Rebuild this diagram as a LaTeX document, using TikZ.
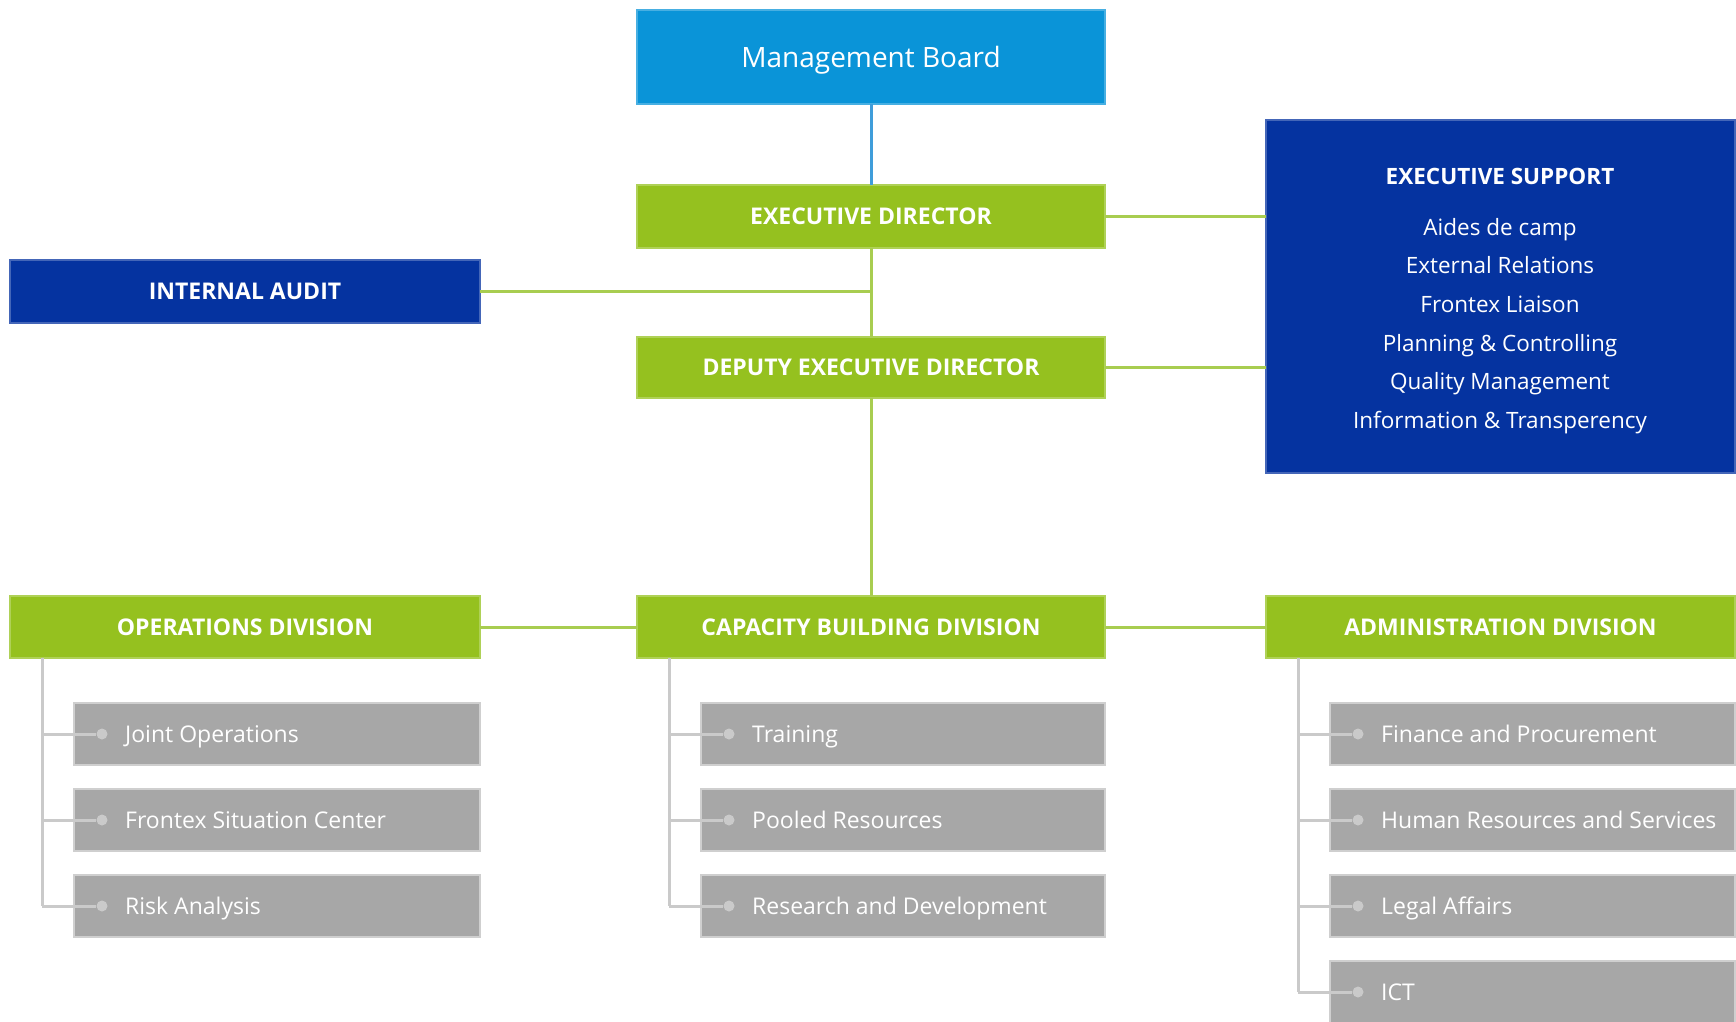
\documentclass[tikz,border=0pt]{standalone}
\usepackage{fontspec}
\setmainfont{Open Sans}
\definecolor{mbblue}{HTML}{0A94D8}
\definecolor{dgreen}{HTML}{95C11F}
\definecolor{dblue}{HTML}{0533A0}
\definecolor{gbox}{HTML}{A7A7A7}
\definecolor{lgreen}{HTML}{A8CD50}
\definecolor{lblue}{HTML}{3F9DDA}
\definecolor{treegrey}{HTML}{CACACA}
\tikzset{
  boxbase/.style={rectangle, inner sep=0pt, outer sep=0pt, anchor=north west, text=white, line width=1.5pt, text depth=0pt},
  mbbox/.style={boxbase, fill=mbblue, draw=mbblue!75!white, font=\fontsize{28}{32}\selectfont, text height=20pt},
  greenbox/.style={boxbase, fill=dgreen, draw=dgreen!75!white, minimum height=62pt, font=\bfseries\fontsize{23}{26}\selectfont, text height=16.4pt},
  bluebox/.style={boxbase, fill=dblue, draw=dblue!75!white, font=\bfseries\fontsize{23}{26}\selectfont, text height=16.4pt},
  greybox/.style={boxbase, fill=gbox, draw=gbox!55!white, minimum height=62pt},
  gtext/.style={anchor=base west, inner sep=0pt, text=white, font=\fontsize{23}{26}\selectfont},
  dotnode/.style={circle, fill=treegrey, inner sep=0pt, minimum size=11pt},
  gline/.style={draw=lgreen, line width=3pt},
  bline/.style={draw=lblue, line width=3pt},
  tree/.style={draw=treegrey, line width=3pt},
}
\begin{document}
\begin{tikzpicture}[x=1pt,y=-1pt]
\useasboundingbox (0,0) rectangle (1736,1021);
\clip (0,0) rectangle (1736,1021);
\fill[white] (0,0) rectangle (1736,1021);

% top nodes
\node[mbbox, minimum width=468pt, minimum height=94pt] (mb) at (637,10) {Management Board};
\node[greenbox, minimum width=468pt, minimum height=63pt] (ed) at (637,185) {EXECUTIVE DIRECTOR};
\node[greenbox, minimum width=468pt, minimum height=61pt] (ded) at (637,337) {DEPUTY EXECUTIVE DIRECTOR};
\node[bluebox, minimum width=470pt, minimum height=63pt] (ia) at (10,260) {INTERNAL AUDIT};
\node[bluebox, minimum width=469pt, minimum height=353pt] (es) at (1266,120) {};
\node[anchor=center, text=white, inner sep=0pt, font=\bfseries\fontsize{22.5}{26}\selectfont] (estitle) at (1500,176) {EXECUTIVE SUPPORT};
\node[anchor=center, text=white, inner sep=0pt, align=center, font=\fontsize{22.5}{38.7}\selectfont] (esitems) at (1500,326)
  {Aides de camp\\External Relations\\Frontex Liaison\\Planning \& Controlling\\Quality Management\\Information \& Transperency};

% divisions
\node[greenbox, minimum width=470pt] (ops) at (10,596) {OPERATIONS DIVISION};
\node[greenbox, minimum width=468pt] (cap) at (637,596) {CAPACITY BUILDING DIVISION};
\node[greenbox, minimum width=469pt] (adm) at (1266,596) {ADMINISTRATION DIVISION};

% main connectors
\draw[bline] (mb.south) -- (ed.north);
\draw[gline] (ed.south) -- (ded.north);
\draw[gline] (ia.east) -- (ia.east -| ed.south);
\draw[gline] (ed.east) -- (ed.east -| es.west);
\draw[gline] (ded.east) -- (ded.east -| es.west);
\draw[gline] (ded.south) -- (cap.north);
\draw[gline] (ops.east) -- (cap.west);
\draw[gline] (cap.east) -- (adm.west);

% operations sub-units
\node[greybox, minimum width=406pt] (o1) at (74,703) {};
\node[greybox, minimum width=406pt] (o2) at (74,789) {};
\node[greybox, minimum width=406pt] (o3) at (74,875) {};
\coordinate (opsT) at ([xshift=32pt]ops.south west);
\node[dotnode] (od1) at ([xshift=28pt]o1.west) {};
\node[dotnode] (od2) at ([xshift=28pt]o2.west) {};
\node[dotnode] (od3) at ([xshift=28pt]o3.west) {};
\draw[tree] (opsT) -- (opsT |- od3);
\foreach \d in {od1,od2,od3} \draw[tree] (opsT |- \d) -- (\d);
\node[gtext] (o1t) at ([xshift=51pt,yshift=-8pt]o1.west) {Joint Operations};
\node[gtext] (o2t) at ([xshift=51pt,yshift=-8pt]o2.west) {Frontex Situation Center};
\node[gtext] (o3t) at ([xshift=51pt,yshift=-8pt]o3.west) {Risk Analysis};

% capacity sub-units
\node[greybox, minimum width=404pt] (c1) at (701,703) {};
\node[greybox, minimum width=404pt] (c2) at (701,789) {};
\node[greybox, minimum width=404pt] (c3) at (701,875) {};
\coordinate (capT) at ([xshift=32pt]cap.south west);
\node[dotnode] (cd1) at ([xshift=28pt]c1.west) {};
\node[dotnode] (cd2) at ([xshift=28pt]c2.west) {};
\node[dotnode] (cd3) at ([xshift=28pt]c3.west) {};
\draw[tree] (capT) -- (capT |- cd3);
\foreach \d in {cd1,cd2,cd3} \draw[tree] (capT |- \d) -- (\d);
\node[gtext] (c1t) at ([xshift=51pt,yshift=-8pt]c1.west) {Training};
\node[gtext] (c2t) at ([xshift=51pt,yshift=-8pt]c2.west) {Pooled Resources};
\node[gtext] (c3t) at ([xshift=51pt,yshift=-8pt]c3.west) {Research and Development};

% administration sub-units
\node[greybox, minimum width=405pt] (a1) at (1330,703) {};
\node[greybox, minimum width=405pt] (a2) at (1330,789) {};
\node[greybox, minimum width=405pt] (a3) at (1330,875) {};
\node[greybox, minimum width=405pt] (a4) at (1330,961) {};
\coordinate (admT) at ([xshift=32pt]adm.south west);
\node[dotnode] (ad1) at ([xshift=28pt]a1.west) {};
\node[dotnode] (ad2) at ([xshift=28pt]a2.west) {};
\node[dotnode] (ad3) at ([xshift=28pt]a3.west) {};
\node[dotnode] (ad4) at ([xshift=28pt]a4.west) {};
\draw[tree] (admT) -- (admT |- ad4);
\foreach \d in {ad1,ad2,ad3,ad4} \draw[tree] (admT |- \d) -- (\d);
\node[gtext] (a1t) at ([xshift=51pt,yshift=-8pt]a1.west) {Finance and Procurement};
\node[gtext] (a2t) at ([xshift=51pt,yshift=-8pt]a2.west) {Human Resources and Services};
\node[gtext] (a3t) at ([xshift=51pt,yshift=-8pt]a3.west) {Legal Affairs};
\node[gtext] (a4t) at ([xshift=51pt,yshift=-8pt]a4.west) {ICT};
\end{tikzpicture}
\end{document}
